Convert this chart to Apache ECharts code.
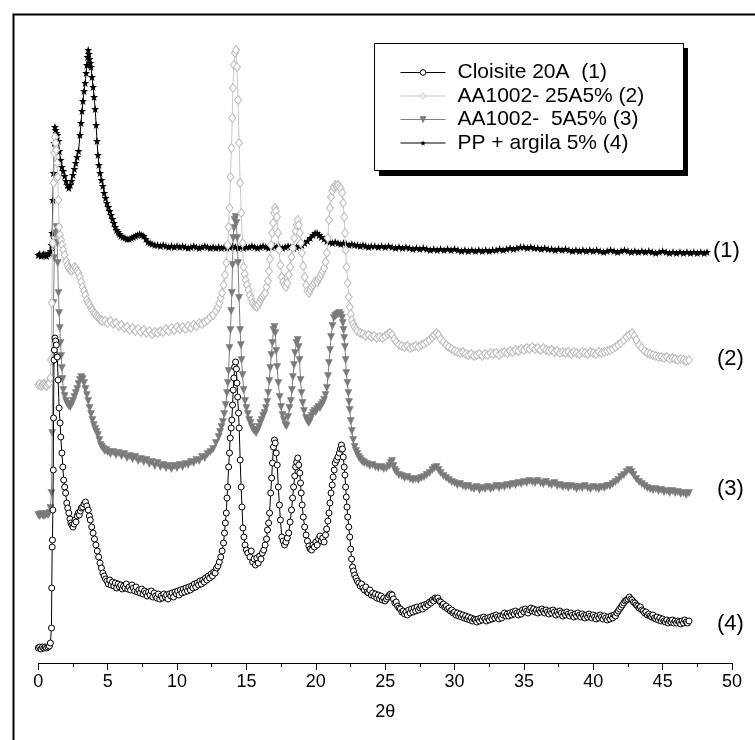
<!DOCTYPE html>
<html>
<head>
<meta charset="utf-8">
<script src="https://cdn.jsdelivr.net/npm/echarts@6/dist/echarts.min.js"></script>
<style>
  html, body { margin: 0; padding: 0; background: #fff; }
  #chart { width: 755px; height: 740px; }
</style>
</head>
<body>
<div id="chart"></div>
<script>
// X-ray diffraction patterns, intensity (offset, arbitrary units) against 2θ (degrees)

const xTicks = [0, 5, 10, 15, 20, 25, 30, 35, 40, 45, 50];

const seriesNames = ['Cloisite 20A  (1)', 'AA1002- 25A5% (2)', 'AA1002-  5A5% (3)', 'PP + argila 5% (4)'];

const curveTags = ['(1)', '(2)', '(3)', '(4)'];

// Cloisite 20A
const cloisite = [
[0,15],[0.1,16],[0.2,14],[0.3,16],[0.4,15],[0.5,16],[0.6,15],[0.7,16],[0.8,17],[0.87,20],
[0.95,35],[0.97,75],[1.0,116],[1.02,123],[1.05,153],[1.08,193],[1.1,245],[1.13,303],[1.16,313],[1.2,325],
[1.25,322],[1.3,318],[1.37,306],[1.43,283],[1.5,255],[1.57,240],[1.62,226],[1.7,210],[1.77,196],[1.83,183],
[1.9,176],[1.97,170],[2.05,160],[2.12,155],[2.2,150],[2.28,144],[2.35,140],[2.42,138],[2.5,136],[2.58,139],
[2.65,143],[2.72,141],[2.8,147],[2.88,150],[2.95,148],[3.03,152],[3.1,155],[3.2,156],[3.3,159],[3.4,161],
[3.5,157],[3.6,153],[3.68,147],[3.75,143],[3.85,136],[3.95,130],[4.05,124],[4.15,118],[4.25,112],[4.35,106],
[4.45,100],[4.55,95],[4.65,90],[4.75,87],[4.85,84],[4.95,82],[5.05,79],[5.15,83],[5.25,78],[5.35,81],
[5.45,77],[5.55,80],[5.65,75],[5.75,79],[5.85,76],[5.95,78],[6.05,74],[6.15,77],[6.25,75],[6.35,79],
[6.45,74],[6.55,76],[6.65,73],[6.75,78],[6.85,75],[6.95,72],[7.05,76],[7.15,71],[7.25,73],[7.35,70],
[7.45,74],[7.55,69],[7.65,72],[7.75,70],[7.85,67],[7.95,71],[8.05,68],[8.15,72],[8.25,66],[8.35,70],
[8.45,67],[8.55,65],[8.65,69],[8.75,64],[8.85,67],[8.95,65],[9.05,69],[9.15,66],[9.25,68],[9.35,64],
[9.45,69],[9.55,67],[9.65,70],[9.75,66],[9.85,71],[9.95,69],[10.05,72],[10.15,68],[10.25,73],[10.35,70],
[10.45,74],[10.55,71],[10.65,75],[10.75,72],[10.85,76],[10.95,73],[11.05,77],[11.15,75],[11.25,79],[11.35,76],
[11.45,80],[11.55,78],[11.65,82],[11.75,79],[11.85,83],[11.95,81],[12.05,85],[12.15,83],[12.25,87],[12.35,85],
[12.45,89],[12.55,87],[12.65,91],[12.75,90],[12.85,95],[12.95,97],[13.05,101],[13.15,106],[13.25,112],[13.35,120],
[13.42,130],[13.48,140],[13.55,150],[13.6,165],[13.65,176],[13.72,196],[13.78,210],[13.83,225],[13.9,235],[13.95,243],
[14.0,258],[14.05,273],[14.1,285],[14.15,296],[14.22,301],[14.28,294],[14.32,280],[14.37,266],[14.43,250],[14.48,235],
[14.55,203],[14.62,176],[14.68,156],[14.75,135],[14.82,126],[14.9,118],[15.0,113],[15.1,110],[15.25,106],[15.35,112],
[15.45,101],[15.55,104],[15.65,98],[15.75,105],[15.85,100],[15.95,107],[16.05,104],[16.15,110],[16.25,113],[16.35,118],
[16.45,124],[16.52,133],[16.6,140],[16.67,150],[16.75,170],[16.82,185],[16.88,200],[16.95,216],[17.02,223],[17.08,220],
[17.15,210],[17.22,198],[17.3,176],[17.38,158],[17.45,143],[17.55,126],[17.65,122],[17.75,118],[17.85,121],[17.95,125],
[18.05,130],[18.15,141],[18.25,153],[18.33,165],[18.4,176],[18.48,187],[18.55,196],[18.62,201],[18.7,205],[18.77,198],
[18.85,190],[18.9,180],[18.95,170],[19.02,158],[19.1,146],[19.2,136],[19.3,128],[19.4,122],[19.5,117],[19.6,114],
[19.7,113],[19.8,118],[19.9,116],[20.0,121],[20.1,118],[20.2,124],[20.3,127],[20.4,122],[20.5,125],[20.6,121],
[20.7,128],[20.78,134],[20.87,142],[20.95,150],[21.02,160],[21.1,170],[21.18,178],[21.25,186],[21.33,193],[21.4,200],
[21.5,203],[21.6,206],[21.7,210],[21.78,214],[21.85,218],[21.92,214],[21.98,206],[22.05,196],[22.1,188],[22.15,176],
[22.2,166],[22.25,156],[22.3,146],[22.38,136],[22.45,126],[22.52,114],[22.58,104],[22.65,96],[22.72,92],[22.8,88],
[22.9,85],[23.0,82],[23.1,80],[23.2,77],[23.3,79],[23.4,75],[23.5,73],[23.6,76],[23.7,71],[23.8,70],
[23.9,73],[24.0,68],[24.1,70],[24.2,67],[24.3,69],[24.4,65],[24.5,68],[24.6,64],[24.7,67],[24.8,63],
[24.9,65],[25.0,62],[25.1,64],[25.2,66],[25.3,68],[25.4,69],[25.5,68],[25.6,64],[25.7,60],[25.8,61],
[25.9,57],[26.0,55],[26.1,54],[26.2,51],[26.3,52],[26.4,49],[26.5,51],[26.6,48],[26.7,53],[26.8,50],
[26.9,54],[27.0,51],[27.1,55],[27.2,52],[27.3,56],[27.4,53],[27.5,55],[27.6,57],[27.7,54],[27.8,58],
[27.9,56],[28.0,59],[28.1,58],[28.2,61],[28.3,60],[28.4,63],[28.5,62],[28.6,65],[28.7,64],[28.8,65],
[28.9,62],[29.0,61],[29.1,58],[29.2,59],[29.3,56],[29.4,57],[29.5,54],[29.6,55],[29.7,52],[29.8,53],
[29.9,50],[30.0,51],[30.1,48],[30.2,50],[30.3,47],[30.4,49],[30.5,46],[30.6,48],[30.7,45],[30.8,47],
[30.9,44],[31.0,46],[31.1,43],[31.2,45],[31.3,42],[31.4,44],[31.5,43],[31.6,41],[31.7,44],[31.8,42],
[31.9,45],[32.0,43],[32.1,46],[32.2,44],[32.3,42],[32.4,45],[32.5,43],[32.6,46],[32.7,44],[32.8,47],
[32.9,45],[33.0,48],[33.1,46],[33.2,44],[33.3,47],[33.4,45],[33.5,48],[33.6,50],[33.7,47],[33.8,49],
[33.9,47],[34.0,50],[34.1,48],[34.2,51],[34.3,49],[34.4,52],[34.5,50],[34.6,48],[34.7,51],[34.8,49],
[34.9,53],[35.0,51],[35.1,54],[35.2,52],[35.3,50],[35.4,53],[35.5,55],[35.6,52],[35.7,54],[35.8,51],
[35.9,53],[36.0,50],[36.1,53],[36.2,51],[36.3,54],[36.4,52],[36.5,50],[36.6,53],[36.7,51],[36.8,49],
[36.9,52],[37.0,50],[37.1,53],[37.2,51],[37.3,48],[37.4,51],[37.5,49],[37.6,52],[37.7,50],[37.8,47],
[37.9,50],[38.0,48],[38.1,51],[38.2,49],[38.3,47],[38.4,50],[38.5,48],[38.6,46],[38.7,49],[38.8,47],
[38.9,50],[39.0,48],[39.1,46],[39.2,49],[39.3,47],[39.4,45],[39.5,48],[39.6,46],[39.7,49],[39.8,47],
[39.9,45],[40.0,48],[40.1,46],[40.2,44],[40.3,47],[40.4,45],[40.5,48],[40.6,46],[40.7,44],[40.8,47],
[40.9,45],[41.0,43],[41.1,46],[41.2,44],[41.3,47],[41.4,45],[41.5,48],[41.6,47],[41.7,50],[41.8,52],
[41.9,54],[42.0,56],[42.1,58],[42.2,60],[42.3,62],[42.4,63],[42.5,64],[42.6,66],[42.7,64],[42.8,63],
[42.9,61],[43.0,60],[43.1,58],[43.2,57],[43.3,55],[43.4,56],[43.5,53],[43.6,52],[43.7,50],[43.8,51],
[43.9,48],[44.0,49],[44.1,47],[44.2,46],[44.3,48],[44.4,45],[44.5,44],[44.6,46],[44.7,43],[44.8,45],
[44.9,42],[45.0,44],[45.1,42],[45.2,41],[45.3,43],[45.4,40],[45.5,42],[45.6,41],[45.7,43],[45.8,40],
[45.9,42],[46.0,40],[46.1,42],[46.2,41],[46.3,39],[46.4,42],[46.5,40],[46.6,43],[46.7,41],[46.8,40],[46.9,42]
];

// AA1002- 25A5%
const aa25 = [
[0,278],[0.1,279],[0.2,277],[0.3,278],[0.4,279],[0.5,278],[0.6,277],[0.7,279],[0.8,280],[0.87,285],
[0.92,303],[0.97,360],[1.03,420],[1.1,480],[1.15,510],[1.2,526],[1.25,520],[1.3,513],[1.35,500],[1.4,486],
[1.45,463],[1.5,436],[1.57,428],[1.65,423],[1.72,418],[1.8,413],[1.9,408],[2.0,402],[2.1,398],[2.2,395],
[2.3,393],[2.4,392],[2.5,394],[2.6,396],[2.7,395],[2.8,392],[2.9,390],[3.0,386],[3.1,381],[3.2,376],
[3.3,372],[3.4,368],[3.5,363],[3.6,360],[3.7,358],[3.8,355],[3.9,353],[4.0,350],[4.1,349],[4.2,347],
[4.3,346],[4.4,344],[4.5,343],[4.6,342],[4.8,342],[5.0,340],[5.2,342],[5.4,339],[5.6,340],[5.8,337],
[6.0,338],[6.2,335],[6.4,336],[6.6,333],[6.8,335],[7.0,332],[7.2,334],[7.4,331],[7.6,333],[7.8,330],
[8.0,332],[8.2,329],[8.4,331],[8.6,330],[8.8,332],[9.0,331],[9.2,334],[9.4,332],[9.6,335],[9.8,333],
[10.0,336],[10.2,334],[10.4,336],[10.6,334],[10.8,337],[11.0,335],[11.2,338],[11.4,337],[11.6,340],[11.8,339],
[12.0,341],[12.2,343],[12.4,346],[12.6,348],[12.8,352],[12.95,356],[13.05,360],[13.15,365],[13.25,370],[13.35,378],
[13.45,388],[13.55,400],[13.65,418],[13.72,436],[13.78,455],[13.85,486],[13.92,515],[13.98,545],[14.03,575],[14.1,598],
[14.18,610],[14.25,613],[14.32,596],[14.4,563],[14.47,520],[14.55,480],[14.63,450],[14.72,420],[14.8,396],[14.88,389],
[14.95,383],[15.05,378],[15.15,373],[15.25,368],[15.35,364],[15.45,360],[15.55,358],[15.65,357],[15.75,356],[15.85,358],
[15.95,361],[16.05,364],[16.15,366],[16.25,368],[16.35,370],[16.45,376],[16.55,382],[16.62,392],[16.7,404],[16.77,418],
[16.85,430],[16.92,440],[17.0,450],[17.05,455],[17.12,452],[17.2,446],[17.28,430],[17.35,413],[17.45,398],[17.55,386],
[17.65,381],[17.75,378],[17.85,376],[17.95,380],[18.05,388],[18.15,396],[18.25,406],[18.35,415],[18.45,425],[18.55,432],
[18.62,438],[18.7,443],[18.77,438],[18.85,430],[18.92,420],[19.0,410],[19.1,397],[19.2,386],[19.3,378],[19.4,372],
[19.5,370],[19.6,373],[19.7,376],[19.8,378],[19.9,380],[20.0,382],[20.1,381],[20.2,384],[20.3,386],[20.4,389],
[20.5,392],[20.6,395],[20.7,401],[20.8,410],[20.87,425],[20.95,443],[21.02,455],[21.1,466],[21.2,472],[21.3,476],
[21.4,478],[21.5,477],[21.6,478],[21.7,476],[21.8,474],[21.9,470],[21.97,460],[22.05,446],[22.1,430],[22.15,413],
[22.22,396],[22.3,380],[22.38,366],[22.45,356],[22.52,349],[22.6,343],[22.7,339],[22.8,336],[22.9,334],[23.0,332],
[23.2,330],[23.4,329],[23.6,327],[23.8,328],[24.0,326],[24.2,327],[24.4,325],[24.6,326],[24.8,325],[25.0,327],
[25.2,329],[25.35,330],[25.5,328],[25.65,324],[25.8,321],[26.0,318],[26.2,317],[26.4,316],[26.6,317],[26.8,315],
[27.0,316],[27.2,317],[27.4,316],[27.6,318],[27.8,319],[28.0,321],[28.2,323],[28.4,326],[28.55,328],[28.7,330],
[28.85,328],[29.0,324],[29.2,321],[29.4,318],[29.6,316],[29.8,314],[30.0,312],[30.2,311],[30.4,310],[30.6,311],
[30.8,309],[31.0,308],[31.2,309],[31.4,307],[31.6,308],[31.8,309],[32.0,307],[32.2,309],[32.4,308],[32.6,310],
[32.8,309],[33.0,310],[33.2,308],[33.4,310],[33.6,311],[33.8,310],[34.0,312],[34.2,311],[34.4,313],[34.6,312],
[34.8,314],[35.0,313],[35.2,315],[35.4,314],[35.6,316],[35.8,314],[36.0,315],[36.2,313],[36.4,315],[36.6,313],
[36.8,312],[37.0,313],[37.2,311],[37.4,312],[37.6,310],[37.8,311],[38.0,310],[38.2,311],[38.4,309],[38.6,311],
[38.8,310],[39.0,309],[39.2,311],[39.4,310],[39.6,309],[39.8,311],[40.0,310],[40.2,309],[40.4,311],[40.6,310],
[40.8,311],[41.0,312],[41.2,313],[41.4,314],[41.6,316],[41.8,318],[42.0,320],[42.2,323],[42.4,326],[42.6,328],
[42.8,330],[42.95,327],[43.1,323],[43.3,318],[43.5,315],[43.7,312],[43.9,310],[44.1,309],[44.3,308],[44.5,307],
[44.7,306],[44.9,306],[45.1,305],[45.3,306],[45.5,304],[45.7,305],[45.9,304],[46.1,303],[46.3,304],[46.5,303],
[46.7,302],[46.9,303]
];

// AA1002- 5A5%
const aa5 = [
[0,148],[0.1,147],[0.2,149],[0.3,148],[0.4,147],[0.5,148],[0.6,149],[0.7,148],[0.8,150],[0.87,155],
[0.95,170],[1.0,230],[1.05,300],[1.1,360],[1.15,405],[1.22,430],[1.3,436],[1.36,420],[1.4,400],[1.45,370],
[1.5,350],[1.55,335],[1.6,320],[1.65,307],[1.7,295],[1.75,284],[1.8,273],[1.9,267],[2.0,262],[2.1,259],
[2.2,257],[2.3,256],[2.4,259],[2.5,262],[2.6,266],[2.7,270],[2.8,274],[2.9,279],[3.0,283],[3.1,286],
[3.2,284],[3.3,280],[3.4,274],[3.5,268],[3.6,262],[3.7,255],[3.8,249],[3.9,243],[4.0,238],[4.1,234],
[4.2,231],[4.3,228],[4.4,223],[4.5,218],[4.6,216],[4.7,214],[4.8,212],[4.9,213],[5.0,211],[5.2,209],
[5.4,211],[5.6,208],[5.8,210],[6.0,207],[6.2,209],[6.4,205],[6.6,207],[6.8,204],[7.0,206],[7.2,202],
[7.4,204],[7.6,201],[7.8,203],[8.0,199],[8.2,201],[8.4,197],[8.6,200],[8.8,196],[9.0,198],[9.2,195],
[9.4,197],[9.6,194],[9.8,197],[10.0,195],[10.2,198],[10.4,196],[10.6,199],[10.8,198],[11.0,201],[11.2,200],
[11.4,203],[11.6,202],[11.8,206],[12.0,205],[12.2,209],[12.4,211],[12.6,214],[12.8,220],[13.0,226],[13.1,231],
[13.2,236],[13.3,241],[13.4,249],[13.5,258],[13.6,270],[13.66,280],[13.72,292],[13.78,315],[13.85,333],[13.9,352],
[13.95,370],[14.0,398],[14.05,425],[14.1,435],[14.15,443],[14.22,446],[14.28,440],[14.33,425],[14.4,400],[14.47,365],
[14.55,333],[14.6,318],[14.65,303],[14.72,288],[14.8,273],[14.9,262],[15.0,255],[15.1,249],[15.2,243],[15.3,240],
[15.4,236],[15.5,233],[15.6,232],[15.7,230],[15.8,233],[15.9,236],[16.0,240],[16.1,243],[16.2,247],[16.3,250],
[16.4,255],[16.5,261],[16.57,270],[16.65,282],[16.72,295],[16.8,308],[16.87,320],[16.95,333],[17.02,336],[17.08,330],
[17.15,312],[17.22,296],[17.3,280],[17.4,266],[17.5,256],[17.6,248],[17.7,243],[17.8,238],[17.9,237],[18.0,246],
[18.1,255],[18.2,262],[18.28,273],[18.35,286],[18.43,298],[18.5,310],[18.6,320],[18.7,323],[18.77,316],[18.83,303],
[18.9,283],[18.97,270],[19.05,260],[19.15,252],[19.3,245],[19.4,242],[19.5,240],[19.6,243],[19.7,247],[19.8,250],
[19.9,252],[20.0,251],[20.1,254],[20.2,256],[20.3,255],[20.4,258],[20.5,260],[20.6,263],[20.7,268],[20.8,275],
[20.88,287],[20.95,300],[21.03,313],[21.1,326],[21.2,337],[21.3,345],[21.4,347],[21.5,348],[21.6,349],[21.7,350],
[21.8,348],[21.9,345],[21.95,340],[22.0,333],[22.05,325],[22.1,316],[22.15,303],[22.2,290],[22.28,280],[22.35,270],
[22.4,261],[22.45,253],[22.52,242],[22.6,232],[22.7,223],[22.8,216],[22.9,212],[23.0,209],[23.1,206],[23.2,204],
[23.3,202],[23.4,201],[23.5,200],[23.7,199],[23.9,197],[24.1,198],[24.3,196],[24.5,195],[24.7,196],[24.9,194],
[25.1,195],[25.3,197],[25.4,200],[25.5,202],[25.6,197],[25.7,193],[25.8,191],[26.0,188],[26.2,187],[26.4,185],
[26.6,186],[26.8,184],[27.0,183],[27.2,184],[27.4,183],[27.6,185],[27.8,186],[28.0,188],[28.2,190],[28.4,193],
[28.55,195],[28.7,196],[28.85,193],[29.0,190],[29.2,187],[29.4,185],[29.6,183],[29.8,181],[30.0,180],[30.2,178],
[30.4,179],[30.6,177],[30.8,176],[31.0,177],[31.2,175],[31.4,174],[31.6,176],[31.8,173],[32.0,175],[32.2,174],
[32.4,176],[32.6,174],[32.8,175],[33.0,177],[33.2,175],[33.4,177],[33.6,176],[33.8,178],[34.0,177],[34.2,179],
[34.4,178],[34.6,180],[34.8,179],[35.0,181],[35.2,180],[35.4,182],[35.6,181],[35.8,180],[36.0,182],[36.2,180],
[36.4,179],[36.6,181],[36.8,179],[37.0,178],[37.2,180],[37.4,177],[37.6,178],[37.8,176],[38.0,177],[38.2,175],
[38.4,177],[38.6,176],[38.8,174],[39.0,176],[39.2,175],[39.4,177],[39.6,175],[39.8,174],[40.0,176],[40.2,175],
[40.4,174],[40.6,176],[40.8,175],[41.0,177],[41.2,177],[41.4,179],[41.6,181],[41.8,183],[42.0,186],[42.2,188],
[42.4,191],[42.6,193],[42.75,191],[42.9,188],[43.1,184],[43.3,181],[43.5,179],[43.7,177],[43.9,175],[44.1,174],
[44.3,173],[44.5,174],[44.7,172],[44.9,173],[45.1,171],[45.3,172],[45.5,170],[45.7,172],[45.9,170],[46.1,171],
[46.3,169],[46.5,170],[46.7,168],[46.9,170]
];

// PP + argila 5%
const ppArgila = [
[0,408],[0.1,409],[0.2,407],[0.3,408],[0.4,409],[0.5,408],[0.6,407],[0.7,409],[0.8,410],[0.9,412],
[0.95,418],[1.0,430],[1.05,463],[1.1,490],[1.15,520],[1.2,536],[1.25,533],[1.3,530],[1.38,528],[1.45,522],
[1.52,512],[1.6,503],[1.7,496],[1.8,492],[1.9,487],[2.0,482],[2.1,478],[2.2,475],[2.3,478],[2.4,482],
[2.5,488],[2.6,494],[2.7,500],[2.8,506],[2.9,512],[3.0,528],[3.08,540],[3.15,552],[3.22,562],[3.3,572],
[3.38,580],[3.45,590],[3.5,598],[3.55,606],[3.6,613],[3.65,609],[3.7,604],[3.75,600],[3.8,596],[3.87,586],
[3.95,576],[4.02,566],[4.1,554],[4.17,538],[4.23,522],[4.3,508],[4.37,498],[4.45,490],[4.55,483],[4.65,477],
[4.75,470],[4.85,465],[4.95,460],[5.05,456],[5.15,452],[5.25,448],[5.35,444],[5.45,440],[5.55,436],[5.65,433],
[5.75,431],[5.85,429],[5.95,427],[6.1,426],[6.25,425],[6.4,424],[6.55,424],[6.7,425],[6.85,426],[7.0,427],
[7.15,428],[7.3,429],[7.45,428],[7.6,427],[7.75,424],[7.9,421],[8.05,420],[8.2,419],[8.4,418],[8.6,418],
[8.8,417],[9.0,418],[9.2,417],[9.4,416],[9.6,417],[9.8,416],[10.0,417],[10.2,416],[10.4,417],[10.6,416],
[10.8,415],[11.0,416],[11.2,417],[11.4,416],[11.6,415],[11.8,416],[12.0,417],[12.2,416],[12.4,415],[12.6,416],
[12.8,415],[13.0,416],[13.2,415],[13.4,416],[13.6,415],[13.8,416],[14.0,417],[14.2,416],[14.4,415],[14.6,416],
[14.8,415],[15.0,416],[15.2,416],[15.4,417],[15.6,416],[15.8,415],[16.0,416],[16.2,417],[16.4,416],[16.6,415],
[16.8,416],[17.0,417],[17.2,416],[17.4,416],[17.6,415],[17.8,416],[18.0,417],[18.2,416],[18.4,415],[18.6,416],
[18.8,417],[19.0,418],[19.2,420],[19.4,422],[19.6,425],[19.8,428],[19.95,430],[20.1,430],[20.25,428],[20.4,426],
[20.6,424],[20.8,422],[21.0,421],[21.2,420],[21.4,421],[21.6,420],[21.8,419],[22.0,420],[22.2,419],[22.4,418],
[22.6,419],[22.8,418],[23.0,418],[23.2,417],[23.4,418],[23.6,417],[23.8,416],[24.0,417],[24.25,417],[24.5,416],
[24.75,417],[25.0,416],[25.25,417],[25.5,416],[25.75,415],[26.0,416],[26.25,415],[26.5,416],[26.75,415],[27.0,414],
[27.25,415],[27.5,414],[27.75,415],[28.0,414],[28.25,413],[28.5,414],[28.75,413],[29.0,414],[29.25,413],[29.5,414],
[29.75,413],[30.0,414],[30.25,413],[30.5,412],[30.75,413],[31.0,412],[31.25,413],[31.5,412],[31.75,413],[32.0,412],
[32.25,413],[32.5,412],[32.75,413],[33.0,413],[33.25,414],[33.5,413],[33.75,414],[34.0,415],[34.25,414],[34.5,415],
[34.75,416],[35.0,416],[35.25,415],[35.5,416],[35.75,415],[36.0,415],[36.25,414],[36.5,415],[36.75,414],[37.0,414],
[37.25,413],[37.5,414],[37.75,413],[38.0,414],[38.25,413],[38.5,412],[38.75,413],[39.0,412],[39.25,413],[39.5,412],
[39.75,413],[40.0,412],[40.25,413],[40.5,412],[40.75,411],[41.0,412],[41.25,413],[41.5,412],[41.75,411],[42.0,412],
[42.25,413],[42.5,412],[42.75,411],[43.0,412],[43.25,411],[43.5,412],[43.75,411],[44.0,412],[44.25,411],[44.5,410],
[44.75,411],[45.0,412],[45.25,411],[45.5,410],[45.75,411],[46.0,410],[46.25,411],[46.5,410],[46.75,411],[47.0,410],
[47.25,411],[47.5,410],[47.75,411],[48.0,410],[48.2,411]
];

const FONT = '"Liberation Sans", Arial, Helvetica, sans-serif';
const STAR = 'path://M0,-10L2.35,-3.24L9.51,-3.09L3.8,1.24L5.88,8.09L0,4L-5.88,8.09L-3.8,1.24L-9.51,-3.09L-2.35,-3.24Z';

const chart = echarts.init(document.getElementById('chart'), null, { renderer: 'canvas' });

const tagTops = [240, 348, 478, 613];

const option = {
  animation: false,
  backgroundColor: '#ffffff',
  textStyle: { fontFamily: FONT },
  grid: { left: 38.3, right: 23, top: 13, bottom: 77, containLabel: false },
  xAxis: {
    type: 'value',
    min: 0, max: 50, interval: 5,
    name: '2θ',
    nameLocation: 'middle',
    nameGap: 40,
    nameTextStyle: { fontSize: 18, color: '#000', fontFamily: FONT },
    axisLine: { lineStyle: { color: '#000', width: 1 } },
    axisTick: { show: true, inside: false, length: 7, lineStyle: { color: '#000' } },
    minorTick: { show: true, splitNumber: 2, length: 4, lineStyle: { color: '#000' } },
    splitLine: { show: false },
    axisLabel: {
      fontSize: 18, color: '#000', margin: 10,
      formatter: v => (xTicks.includes(v) ? String(v) : '')
    }
  },
  yAxis: { type: 'value', min: 0, max: 650, show: false },
  legend: {
    data: seriesNames,
    orient: 'vertical',
    left: 400, top: 62,
    z: 30,
    padding: 0,
    itemWidth: 45, itemHeight: 7, itemGap: 2.5,
    lineStyle: { width: 1 },
    itemStyle: { borderWidth: 1 },
    textStyle: { fontSize: 21, color: '#000', fontFamily: FONT, lineHeight: 21, padding: [0, 0, 0, 7] },
    selectedMode: false
  },
  graphic: [
    // outer frame
    { type: 'rect', left: 11, top: 12, z: 0, silent: true,
      shape: { width: 800, height: 800 }, style: { fill: null, stroke: '#000', lineWidth: 2 } },
    // legend box shadow and box
    { type: 'rect', left: 379, top: 48, z: 10, silent: true,
      shape: { width: 309, height: 128 }, style: { fill: '#000' } },
    { type: 'rect', left: 374, top: 43, z: 11, silent: true,
      shape: { width: 309, height: 127 }, style: { fill: '#fff', stroke: '#000', lineWidth: 1 } }
  ].concat(curveTags.map((t, i) => ({
    type: 'text', left: i === 0 ? 713 : 717, top: tagTops[i], z: 12, silent: true,
    style: { text: t, fontSize: 22, fill: '#000', fontFamily: FONT }
  }))),
  series: [
    {
      name: seriesNames[0], type: 'line', data: cloisite, z: 5,
      symbol: 'circle', symbolSize: 6,
      lineStyle: { color: '#000', width: 1 },
      itemStyle: { color: '#fff', borderColor: '#000', borderWidth: 1 }
    },
    {
      name: seriesNames[1], type: 'line', data: aa25, z: 4,
      symbol: 'diamond', symbolSize: [7, 9],
      lineStyle: { color: '#c8c8c8', width: 1 },
      itemStyle: { color: '#fff', borderColor: '#bdbdbd', borderWidth: 1 }
    },
    {
      name: seriesNames[2], type: 'line', data: aa5, z: 3,
      symbol: 'triangle', symbolRotate: 180, symbolSize: 7,
      lineStyle: { color: '#808080', width: 1 },
      itemStyle: { color: '#7a7a7a', borderColor: '#7a7a7a', borderWidth: 0.5 }
    },
    {
      name: seriesNames[3], type: 'line', data: ppArgila, z: 2,
      symbol: STAR, symbolSize: 8,
      lineStyle: { color: '#000', width: 1 },
      itemStyle: { color: '#000' }
    }
  ]
};

chart.setOption(option);
</script>
</body>
</html>
